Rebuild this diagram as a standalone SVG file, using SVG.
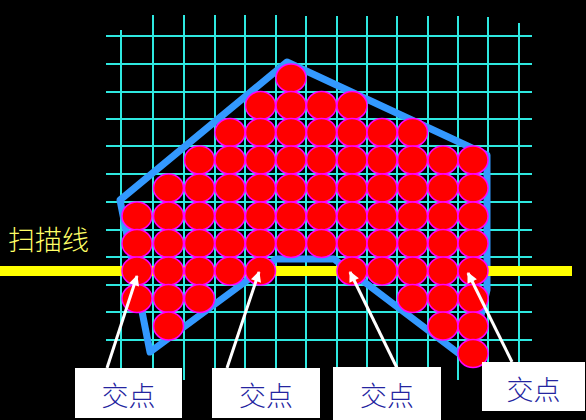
<svg xmlns="http://www.w3.org/2000/svg" width="586" height="420" viewBox="0 0 586 420">
<defs>
<style>
.g{stroke:#2ee8e0;stroke-width:2;fill:none}
.c{fill:#ff0000;stroke:#ff00ff;stroke-width:1.5}
.poly{fill:none;stroke:#3399ff;stroke-width:7;stroke-linejoin:round}
.arr{stroke:#ffffff;stroke-width:3;fill:none}
.box{fill:#ffffff}
.lbl{font-family:"Noto Sans CJK SC","Noto Sans",sans-serif;font-size:27px;font-weight:300;fill:#2424a0;text-anchor:middle}
.scan{font-family:"Noto Sans CJK SC","Noto Sans",sans-serif;font-size:27px;font-weight:300;fill:#ffff66}
</style>
<marker id="ah" viewBox="0 0 10 10" refX="9" refY="5" markerWidth="5" markerHeight="3.5" orient="auto" markerUnits="strokeWidth">
<path d="M0,0 L10,5 L0,10 z" fill="#ffffff"/>
</marker>
</defs>
<rect width="586" height="420" fill="#000000"/>
<g id="grid">
<line class="g" x1="121" y1="30" x2="121" y2="380"/>
<line class="g" x1="153" y1="15" x2="153" y2="380"/>
<line class="g" x1="184" y1="15" x2="184" y2="380"/>
<line class="g" x1="215" y1="15" x2="215" y2="380"/>
<line class="g" x1="245" y1="15" x2="245" y2="380"/>
<line class="g" x1="276" y1="15" x2="276" y2="380"/>
<line class="g" x1="306" y1="16" x2="306" y2="380"/>
<line class="g" x1="337" y1="16" x2="337" y2="380"/>
<line class="g" x1="367" y1="16" x2="367" y2="380"/>
<line class="g" x1="397" y1="16" x2="397" y2="380"/>
<line class="g" x1="428" y1="16" x2="428" y2="380"/>
<line class="g" x1="458" y1="16" x2="458" y2="380"/>
<line class="g" x1="488" y1="17" x2="488" y2="380"/>
<line class="g" x1="519" y1="23" x2="519" y2="362"/>
<line class="g" x1="106" y1="36" x2="532" y2="36"/>
<line class="g" x1="106" y1="64" x2="532" y2="64"/>
<line class="g" x1="106" y1="92" x2="532" y2="92"/>
<line class="g" x1="106" y1="119" x2="532" y2="119"/>
<line class="g" x1="106" y1="146" x2="532" y2="146"/>
<line class="g" x1="106" y1="174" x2="532" y2="174"/>
<line class="g" x1="106" y1="202" x2="532" y2="202"/>
<line class="g" x1="106" y1="230" x2="532" y2="230"/>
<line class="g" x1="106" y1="257" x2="532" y2="257"/>
<line class="g" x1="106" y1="285" x2="532" y2="285"/>
<line class="g" x1="106" y1="312" x2="532" y2="312"/>
<line class="g" x1="106" y1="340" x2="532" y2="340"/>
</g>
<polygon id="polygon" class="poly" points="287,62 120,200 150,352 276,259 334,259 470,362 487,290 487,155"/>
<rect id="scanline" x="0" y="266" width="572" height="10" fill="#ffff00"/>
<g id="pixels">
<ellipse class="c" cx="291" cy="78" rx="15" ry="14"/>
<ellipse class="c" cx="260.5" cy="105.5" rx="15" ry="14"/>
<ellipse class="c" cx="291" cy="105.5" rx="15" ry="14"/>
<ellipse class="c" cx="321.5" cy="105.5" rx="15" ry="14"/>
<ellipse class="c" cx="352" cy="105.5" rx="15" ry="14"/>
<ellipse class="c" cx="230" cy="132.5" rx="15" ry="14"/>
<ellipse class="c" cx="260.5" cy="132.5" rx="15" ry="14"/>
<ellipse class="c" cx="291" cy="132.5" rx="15" ry="14"/>
<ellipse class="c" cx="321.5" cy="132.5" rx="15" ry="14"/>
<ellipse class="c" cx="352" cy="132.5" rx="15" ry="14"/>
<ellipse class="c" cx="382" cy="132.5" rx="15" ry="14"/>
<ellipse class="c" cx="412.5" cy="132.5" rx="15" ry="14"/>
<ellipse class="c" cx="199.5" cy="160" rx="15" ry="14"/>
<ellipse class="c" cx="230" cy="160" rx="15" ry="14"/>
<ellipse class="c" cx="260.5" cy="160" rx="15" ry="14"/>
<ellipse class="c" cx="291" cy="160" rx="15" ry="14"/>
<ellipse class="c" cx="321.5" cy="160" rx="15" ry="14"/>
<ellipse class="c" cx="352" cy="160" rx="15" ry="14"/>
<ellipse class="c" cx="382" cy="160" rx="15" ry="14"/>
<ellipse class="c" cx="412.5" cy="160" rx="15" ry="14"/>
<ellipse class="c" cx="443" cy="160" rx="15" ry="14"/>
<ellipse class="c" cx="473" cy="160" rx="15" ry="14"/>
<ellipse class="c" cx="168.5" cy="188" rx="15" ry="14"/>
<ellipse class="c" cx="199.5" cy="188" rx="15" ry="14"/>
<ellipse class="c" cx="230" cy="188" rx="15" ry="14"/>
<ellipse class="c" cx="260.5" cy="188" rx="15" ry="14"/>
<ellipse class="c" cx="291" cy="188" rx="15" ry="14"/>
<ellipse class="c" cx="321.5" cy="188" rx="15" ry="14"/>
<ellipse class="c" cx="352" cy="188" rx="15" ry="14"/>
<ellipse class="c" cx="382" cy="188" rx="15" ry="14"/>
<ellipse class="c" cx="412.5" cy="188" rx="15" ry="14"/>
<ellipse class="c" cx="443" cy="188" rx="15" ry="14"/>
<ellipse class="c" cx="473" cy="188" rx="15" ry="14"/>
<ellipse class="c" cx="137" cy="216" rx="15" ry="14"/>
<ellipse class="c" cx="168.5" cy="216" rx="15" ry="14"/>
<ellipse class="c" cx="199.5" cy="216" rx="15" ry="14"/>
<ellipse class="c" cx="230" cy="216" rx="15" ry="14"/>
<ellipse class="c" cx="260.5" cy="216" rx="15" ry="14"/>
<ellipse class="c" cx="291" cy="216" rx="15" ry="14"/>
<ellipse class="c" cx="321.5" cy="216" rx="15" ry="14"/>
<ellipse class="c" cx="352" cy="216" rx="15" ry="14"/>
<ellipse class="c" cx="382" cy="216" rx="15" ry="14"/>
<ellipse class="c" cx="412.5" cy="216" rx="15" ry="14"/>
<ellipse class="c" cx="443" cy="216" rx="15" ry="14"/>
<ellipse class="c" cx="473" cy="216" rx="15" ry="14"/>
<ellipse class="c" cx="137" cy="243.5" rx="15" ry="14"/>
<ellipse class="c" cx="168.5" cy="243.5" rx="15" ry="14"/>
<ellipse class="c" cx="199.5" cy="243.5" rx="15" ry="14"/>
<ellipse class="c" cx="230" cy="243.5" rx="15" ry="14"/>
<ellipse class="c" cx="260.5" cy="243.5" rx="15" ry="14"/>
<ellipse class="c" cx="291" cy="243.5" rx="15" ry="14"/>
<ellipse class="c" cx="321.5" cy="243.5" rx="15" ry="14"/>
<ellipse class="c" cx="352" cy="243.5" rx="15" ry="14"/>
<ellipse class="c" cx="382" cy="243.5" rx="15" ry="14"/>
<ellipse class="c" cx="412.5" cy="243.5" rx="15" ry="14"/>
<ellipse class="c" cx="443" cy="243.5" rx="15" ry="14"/>
<ellipse class="c" cx="473" cy="243.5" rx="15" ry="14"/>
<ellipse class="c" cx="137" cy="271" rx="15" ry="14"/>
<ellipse class="c" cx="168.5" cy="271" rx="15" ry="14"/>
<ellipse class="c" cx="199.5" cy="271" rx="15" ry="14"/>
<ellipse class="c" cx="230" cy="271" rx="15" ry="14"/>
<ellipse class="c" cx="260.5" cy="271" rx="15" ry="14"/>
<ellipse class="c" cx="352" cy="271" rx="15" ry="14"/>
<ellipse class="c" cx="382" cy="271" rx="15" ry="14"/>
<ellipse class="c" cx="412.5" cy="271" rx="15" ry="14"/>
<ellipse class="c" cx="443" cy="271" rx="15" ry="14"/>
<ellipse class="c" cx="473" cy="271" rx="15" ry="14"/>
<ellipse class="c" cx="137" cy="298.5" rx="15" ry="14"/>
<ellipse class="c" cx="168.5" cy="298.5" rx="15" ry="14"/>
<ellipse class="c" cx="199.5" cy="298.5" rx="15" ry="14"/>
<ellipse class="c" cx="412.5" cy="298.5" rx="15" ry="14"/>
<ellipse class="c" cx="443" cy="298.5" rx="15" ry="14"/>
<ellipse class="c" cx="473" cy="298.5" rx="15" ry="14"/>
<ellipse class="c" cx="168.5" cy="326" rx="15" ry="14"/>
<ellipse class="c" cx="443" cy="326" rx="15" ry="14"/>
<ellipse class="c" cx="473" cy="326" rx="15" ry="14"/>
<ellipse class="c" cx="473" cy="353.5" rx="15" ry="14"/>
</g>
<text id="scan-label" class="scan" x="8" y="250">扫描线</text>
<g id="connectors">
<line class="arr" x1="107" y1="368" x2="137" y2="276" marker-end="url(#ah)"/>
<line class="arr" x1="227" y1="368" x2="259" y2="272" marker-end="url(#ah)"/>
<line class="arr" x1="397" y1="368" x2="350" y2="272" marker-end="url(#ah)"/>
<line class="arr" x1="512" y1="362" x2="468" y2="273" marker-end="url(#ah)"/>
</g>
<g id="label1"><rect class="box" x="75" y="368" width="107" height="50"/><text class="lbl" x="128.5" y="406">交点</text></g>
<g id="label2"><rect class="box" x="212" y="368" width="108" height="50"/><text class="lbl" x="266" y="406">交点</text></g>
<g id="label3"><rect class="box" x="333" y="367" width="108" height="53"/><text class="lbl" x="387" y="406">交点</text></g>
<g id="label4"><rect class="box" x="482" y="362" width="103" height="49"/><text class="lbl" x="533.5" y="400">交点</text></g>
</svg>
